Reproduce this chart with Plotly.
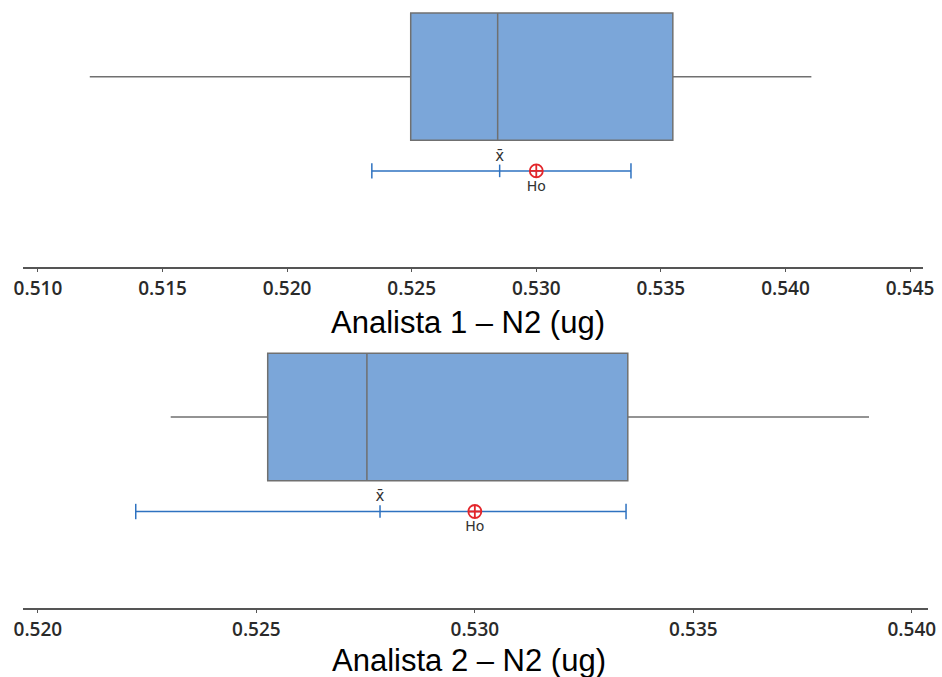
import plotly.graph_objects as go

# Summary statistics per analyst (N2, ug)
analysts = ["Analista 1 – N2 (ug)", "Analista 2 – N2 (ug)"]
whisker_low = [0.51208, 0.52304]
q1_vals = [0.52496, 0.52526]
median_vals = [0.52845, 0.52753]
q3_vals = [0.53548, 0.53350]
whisker_high = [0.54104, 0.53902]

# Mean with its confidence interval and the hypothesised value
mean_vals = [0.52853, 0.52783]
ci_low = [0.52340, 0.52224]
ci_high = [0.53380, 0.53346]
h0_vals = [0.530, 0.530]

# Axis ticks
ticks_1 = [0.510, 0.515, 0.520, 0.525, 0.530, 0.535, 0.540, 0.545]
ticks_2 = [0.520, 0.525, 0.530, 0.535, 0.540]
ranges = [[0.50940, 0.54552], [0.51966, 0.54037]]

BOX_FILL = "#7ba6d9"
BOX_LINE = "#707070"
CI_BLUE = "#2e72c0"
H0_RED = "#e3262b"
TXT = "#2a2a2a"

fig = go.Figure()

box_y = 0.713
box_w = 0.476
ci_y = 0.36

for i in range(2):
    xa = "x" if i == 0 else "x2"
    ya = "y" if i == 0 else "y2"
    fig.add_trace(go.Box(
        y=[box_y], q1=[q1_vals[i]], median=[median_vals[i]], q3=[q3_vals[i]],
        lowerfence=[whisker_low[i]], upperfence=[whisker_high[i]],
        orientation="h", width=box_w, whiskerwidth=0,
        fillcolor=BOX_FILL, line=dict(color=BOX_LINE, width=1.5),
        boxpoints=False, hoverinfo="skip", xaxis=xa, yaxis=ya, showlegend=False,
    ))
    # confidence interval line with end caps
    fig.add_trace(go.Scatter(
        x=[ci_low[i], ci_high[i]], y=[ci_y, ci_y], mode="lines+markers",
        line=dict(color=CI_BLUE, width=1.5),
        marker=dict(symbol="line-ns", size=11, line=dict(color=CI_BLUE, width=1.5)),
        xaxis=xa, yaxis=ya, showlegend=False, hoverinfo="skip",
    ))
    # mean tick
    fig.add_trace(go.Scatter(
        x=[mean_vals[i]], y=[ci_y], mode="markers+text",
        marker=dict(symbol="line-ns", size=9, line=dict(color=CI_BLUE, width=1.5)),
        text=["x̄"], textposition="top center",
        textfont=dict(family="DejaVu Sans", size=15, color="#333333"),
        xaxis=xa, yaxis=ya, showlegend=False, hoverinfo="skip",
    ))
    # hypothesised value
    fig.add_trace(go.Scatter(
        x=[h0_vals[i]], y=[ci_y], mode="markers+text",
        marker=dict(symbol="circle-cross-open", size=13, color=H0_RED, line=dict(color=H0_RED, width=1.8)),
        text=["Ho"], textposition="bottom center",
        textfont=dict(family="DejaVu Sans", size=14, color="#333333"),
        xaxis=xa, yaxis=ya, showlegend=False, hoverinfo="skip",
    ))

axis_common = dict(
    showgrid=False, zeroline=False, showline=True, linecolor="#555555", linewidth=1.5,
    ticks="outside", ticklen=3, tickwidth=1.2, tickcolor="#555555", automargin=False,
    tickfont=dict(family="Open Sans", size=19, color=TXT, weight=600), tickformat=".3f",
)
yaxis_common = dict(visible=False, range=[0, 1], fixedrange=True)

fig.update_layout(
    width=942, height=677,
    margin=dict(l=0, r=0, t=0, b=0),
    paper_bgcolor="white", plot_bgcolor="white",
    xaxis=dict(domain=[23 / 942, 923 / 942], range=ranges[0], tickvals=ticks_1,
               anchor="y", **axis_common),
    yaxis=dict(domain=[(677 - 267) / 677, 1.0], anchor="x", **yaxis_common),
    xaxis2=dict(domain=[23 / 942, 928 / 942], range=ranges[1], tickvals=ticks_2,
                anchor="y2", **axis_common),
    yaxis2=dict(domain=[(677 - 608) / 677, (677 - 340) / 677], anchor="x2", **yaxis_common),
    annotations=[
        dict(text=analysts[0], x=468 / 942, y=1 - 322 / 677, xref="paper", yref="paper",
             showarrow=False, font=dict(family="Liberation Sans", size=31, color="black"),
             xanchor="center", yanchor="middle"),
        dict(text=analysts[1], x=469 / 942, y=1 - 660 / 677, xref="paper", yref="paper",
             showarrow=False, font=dict(family="Liberation Sans", size=31, color="black"),
             xanchor="center", yanchor="middle"),
    ],
)

fig.write_html("out.html")
